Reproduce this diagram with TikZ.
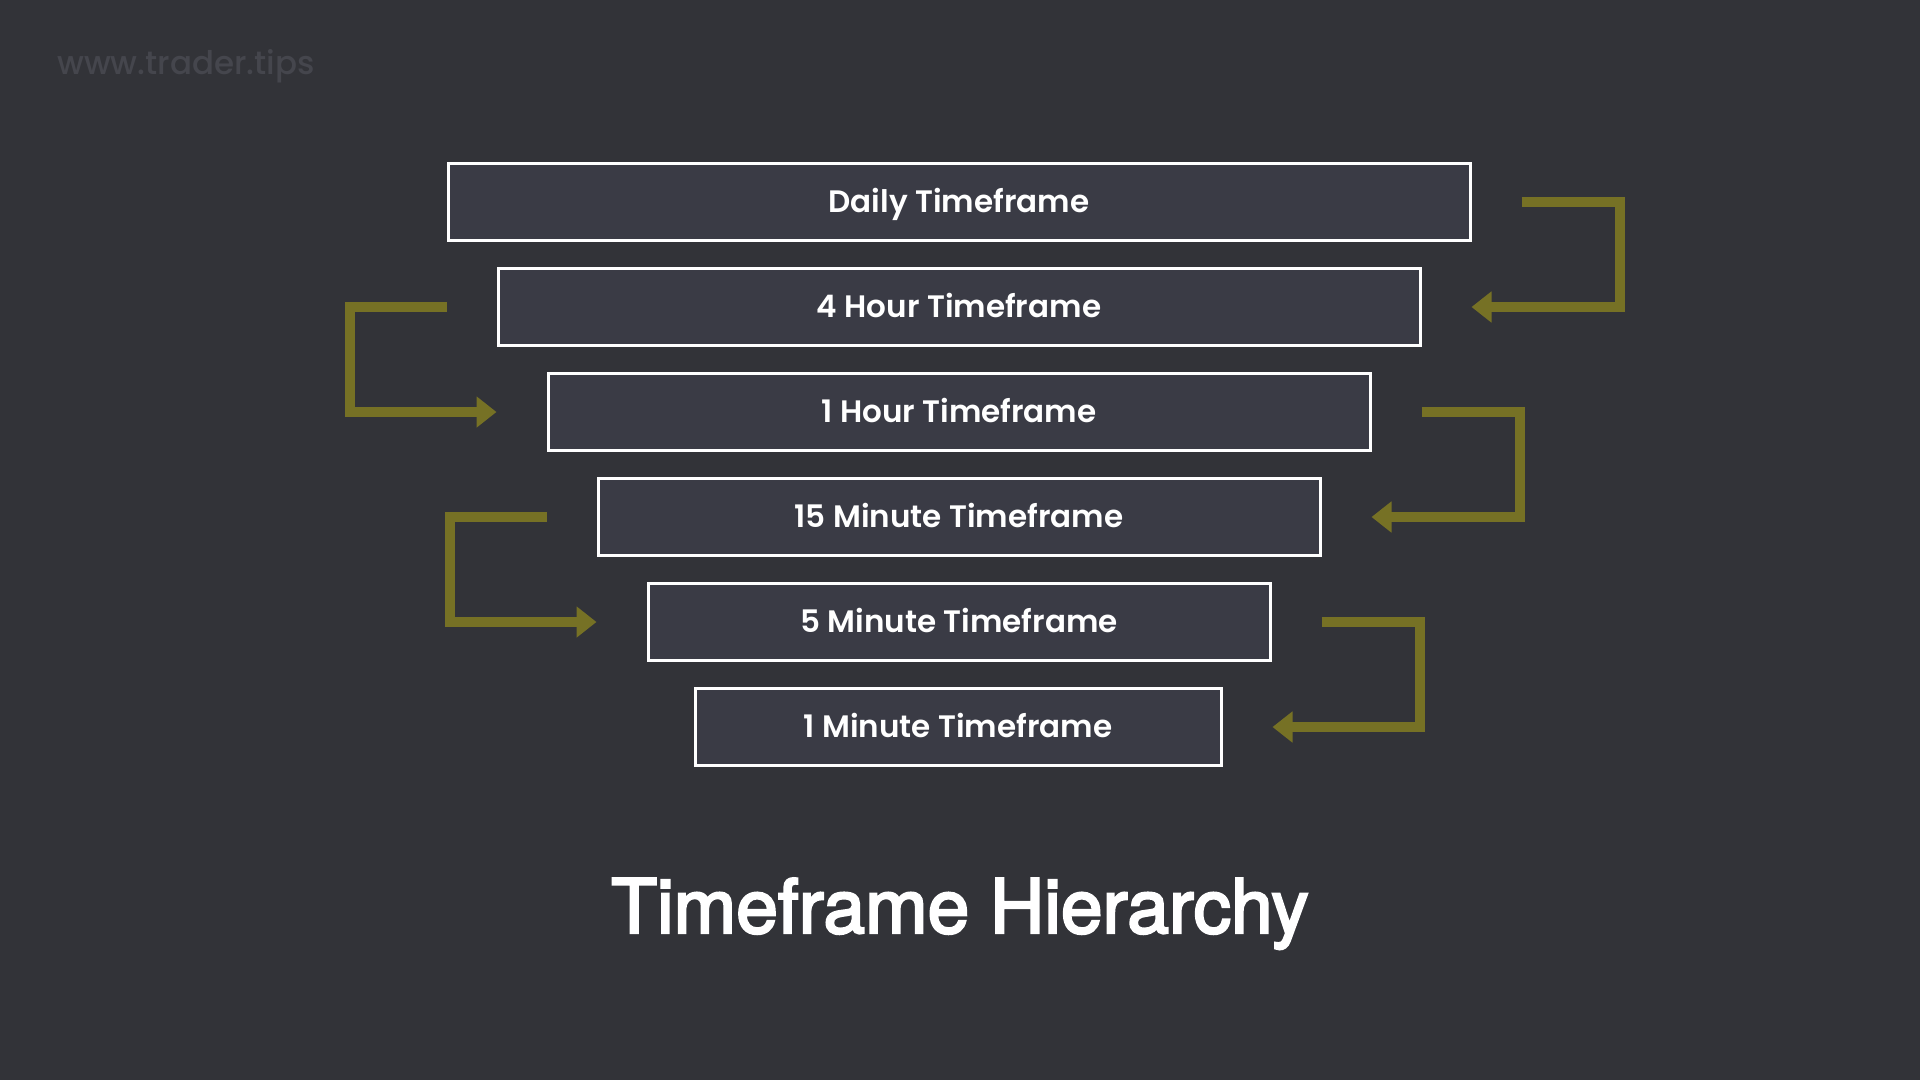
\documentclass[tikz,border=0pt]{standalone}
\usepackage{fontspec}
\setmainfont{Poppins}[UprightFont=* Medium]
\newfontfamily\labelfont{Poppins}[UprightFont=* SemiBold]
\newfontfamily\titlefont{TeX Gyre Heros}[FakeBold=3]
\usetikzlibrary{arrows.meta}
\definecolor{bg}{HTML}{323338}
\definecolor{boxfill}{HTML}{3A3B45}
\definecolor{olive}{HTML}{767125}
\definecolor{wmcol}{HTML}{45464D}
\begin{document}
\begin{tikzpicture}[x=1pt,y=-1pt,
  tfbox/.style={draw=white, line width=3pt, fill=boxfill, minimum height=77pt,
    text height=21.5pt, text depth=0pt, inner sep=0pt, text=white,
    font=\labelfont\fontsize{31}{36}\selectfont},
  arr/.style={draw=olive, line width=10pt, line join=miter,
    -{Triangle[length=20pt,width=30pt]}}]
\fill[bg] (0,0) rectangle (1920,1080);
\useasboundingbox (0,0) rectangle (1920,1080);
\node[anchor=base west, inner sep=0pt, text=wmcol, font=\fontsize{32.5}{40}\selectfont] (wm) at (57,74) {www.trader.tips};
\node[tfbox, minimum width=1022pt] (b1) at (959,202) {Daily Timeframe};
\node[tfbox, minimum width=922pt]  (b2) at (959,307) {4 Hour Timeframe};
\node[tfbox, minimum width=822pt]  (b3) at (959,412) {1 Hour Timeframe};
\node[tfbox, minimum width=722pt]  (b4) at (959,517) {15 Minute Timeframe};
\node[tfbox, minimum width=622pt]  (b5) at (959,622) {5 Minute Timeframe};
\node[tfbox, minimum width=526pt]  (b6) at (958,727) {1 Minute Timeframe};
\draw[arr] ([xshift=50pt]b1.east) -- ++(98,0) |- ([xshift=50pt]b2.east);
\draw[arr] ([xshift=-50pt]b2.west) -- ++(-97,0) |- ([xshift=-50pt]b3.west);
\draw[arr] ([xshift=50pt]b3.east) -- ++(98,0) |- ([xshift=50pt]b4.east);
\draw[arr] ([xshift=-50pt]b4.west) -- ++(-97,0) |- ([xshift=-50pt]b5.west);
\draw[arr] ([xshift=50pt]b5.east) -- ++(98,0) |- ([xshift=50pt]b6.east);
\node[anchor=base, inner sep=0pt, text=white, font=\titlefont\fontsize{75}{90}\selectfont] (title) at (960,933) {Timeframe Hierarchy};
\end{tikzpicture}
\end{document}
